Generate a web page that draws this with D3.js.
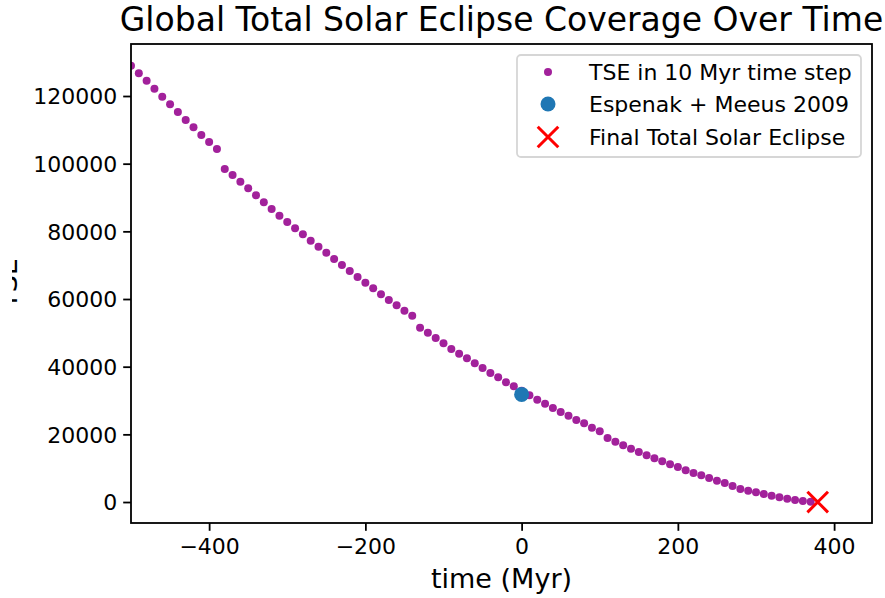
<!DOCTYPE html>
<html>
<head>
<meta charset="utf-8">
<script src="https://cdn.jsdelivr.net/npm/d3@7"></script>
<style>
  body { margin: 0; background: #fff; }
  text { font-family: "DejaVu Sans", sans-serif; }
</style>
</head>
<body>
<script>
const width = 885;
const height = 598;

// plot box, in pixels
const plotL = 131, plotR = 872, plotT = 44, plotB = 523;

// TSE count per 10 Myr step
const times = [
  -500, -490, -480, -470, -460, -450, -440, -430, -420, -410,
  -400, -390, -380, -370, -360, -350, -340, -330, -320, -310,
  -300, -290, -280, -270, -260, -250, -240, -230, -220, -210,
  -200, -190, -180, -170, -160, -150, -140, -130, -120, -110,
  -100, -90, -80, -70, -60, -50, -40, -30, -20, -10,
  0, 10, 20, 30, 40, 50, 60, 70, 80, 90,
  100, 110, 120, 130, 140, 150, 160, 170, 180, 190,
  200, 210, 220, 230, 240, 250, 260, 270, 280, 290,
  300, 310, 320, 330, 340, 350, 360, 370
];
const tse = [
  128960, 126710, 124530, 122160, 119800, 117550, 115270, 112910, 110750, 108480,
  106410, 104340, 98420, 96650, 94670, 92720, 90650, 88580, 86600, 84620,
  82760, 80900, 79120, 77230, 75460, 73690, 71820, 70050, 68280, 66500,
  64820, 63160, 61390, 59700, 58140, 56540, 55070, 51520, 50040, 48470,
  46910, 45220, 43830, 42470, 40990, 39600, 38130, 36850, 35370, 34190,
  32900, 31530, 30240, 29060, 27780, 26600, 25520, 24240, 23250, 21970,
  20890, 18920, 17800, 16750, 15750, 14780, 13790, 12910, 12020, 11130,
  10340, 9360, 8570, 7880, 7090, 6300, 5620, 4700, 3840, 3340,
  2870, 2360, 1860, 1390, 980, 590, 300, 80
];

// Espenak + Meeus 2009 value today
const espenak = [{ t: 0, v: 31800 }];
// last total solar eclipse
const finalTSE = [{ t: 379, v: 0 }];

const xTicks = [-400, -200, 0, 200, 400];
const yTicks = [0, 20000, 40000, 60000, 80000, 100000, 120000];

const legendItems = ["TSE in 10 Myr time step", "Espenak + Meeus 2009", "Final Total Solar Eclipse"];

const purple = "#a2219b";
const blue = "#1f77b4";

const svg = d3.select("body")
    .append("svg")
    .attr("width", width)
    .attr("height", height);

const xScale = d3.scaleLinear()
    .domain([-500, 448.5])
    .range([plotL, plotR]);

const yScale = d3.scaleLinear()
    .domain([-6200, 135370])
    .range([plotB, plotT]);

svg.append("clipPath")
    .attr("id", "plotclip")
    .append("rect")
    .attr("x", plotL)
    .attr("y", plotT)
    .attr("width", plotR - plotL)
    .attr("height", plotB - plotT);

const plot = svg.append("g").attr("clip-path", "url(#plotclip)");

const pts = times.map((t, i) => ({ t, v: tse[i] }));

plot.selectAll("circle.tse")
    .data(pts)
    .join("circle")
    .attr("class", "tse")
    .attr("cx", d => xScale(d.t))
    .attr("cy", d => yScale(d.v))
    .attr("r", 4)
    .attr("fill", purple);

plot.selectAll("circle.esp")
    .data(espenak)
    .join("circle")
    .attr("class", "esp")
    .attr("cx", d => xScale(d.t))
    .attr("cy", d => yScale(d.v))
    .attr("r", 7.5)
    .attr("fill", blue);

function drawX(g, cx, cy, s) {
    g.append("path")
        .attr("d", `M${cx - s},${cy - s}L${cx + s},${cy + s}M${cx - s},${cy + s}L${cx + s},${cy - s}`)
        .attr("stroke", "red")
        .attr("stroke-width", 3)
        .attr("fill", "none");
}

finalTSE.forEach(d => drawX(plot, xScale(d.t), yScale(d.v), 10.3));

// axes
const xAxis = d3.axisBottom(xScale)
    .tickValues(xTicks)
    .tickSize(7.8)
    .tickPadding(6);

const yAxis = d3.axisLeft(yScale)
    .tickValues(yTicks)
    .tickFormat(d3.format("d"))
    .tickSize(7.8)
    .tickPadding(6);

const gx = svg.append("g")
    .attr("transform", `translate(0,${plotB})`)
    .call(xAxis);

const gy = svg.append("g")
    .attr("transform", `translate(${plotL},0)`)
    .call(yAxis);

[gx, gy].forEach(g => {
    g.select(".domain").remove();
    g.selectAll(".tick line").attr("stroke", "#000").attr("stroke-width", 1.8);
    g.selectAll(".tick text")
        .attr("fill", "#000")
        .style("font-size", "22px")
        .style("font-family", "DejaVu Sans");
});
gx.selectAll(".tick text").attr("dy", "0.78em");
gy.selectAll(".tick text").attr("dy", "0.36em");

// frame
svg.append("rect")
    .attr("x", plotL)
    .attr("y", plotT)
    .attr("width", plotR - plotL)
    .attr("height", plotB - plotT)
    .attr("fill", "none")
    .attr("stroke", "#000")
    .attr("stroke-width", 1.8);

// title and labels
svg.append("text")
    .attr("x", (plotL + plotR) / 2)
    .attr("y", 31)
    .attr("text-anchor", "middle")
    .style("font-size", "33px")
    .text("Global Total Solar Eclipse Coverage Over Time");

svg.append("text")
    .attr("x", (plotL + plotR) / 2)
    .attr("y", 588)
    .attr("text-anchor", "middle")
    .style("font-size", "27px")
    .text("time (Myr)");

svg.append("text")
    .attr("transform", `translate(17,${(plotT + plotB) / 2}) rotate(-90)`)
    .attr("text-anchor", "middle")
    .style("font-size", "27px")
    .text("TSE");

// the reference is cut off at the left edge
svg.append("rect")
    .attr("x", 0)
    .attr("y", 0)
    .attr("width", 12)
    .attr("height", height)
    .attr("fill", "#fff");

// legend
const legend = svg.append("g");

legend.append("rect")
    .attr("x", 517)
    .attr("y", 55)
    .attr("width", 344)
    .attr("height", 102)
    .attr("rx", 4)
    .attr("fill", "#fff")
    .attr("fill-opacity", 0.8)
    .attr("stroke", "#d6d6d6")
    .attr("stroke-width", 1.8);

const rowY = [72, 104, 137];
const markX = 548;

legend.append("circle")
    .attr("cx", markX).attr("cy", rowY[0]).attr("r", 4).attr("fill", purple);
legend.append("circle")
    .attr("cx", markX).attr("cy", rowY[1]).attr("r", 7.5).attr("fill", blue);
drawX(legend, markX, rowY[2], 10.3);

legend.selectAll("text.lab")
    .data(legendItems)
    .join("text")
    .attr("class", "lab")
    .attr("x", 589)
    .attr("y", (d, i) => rowY[i])
    .attr("dy", "0.36em")
    .style("font-size", "22px")
    .text(d => d);
</script>
</body>
</html>
